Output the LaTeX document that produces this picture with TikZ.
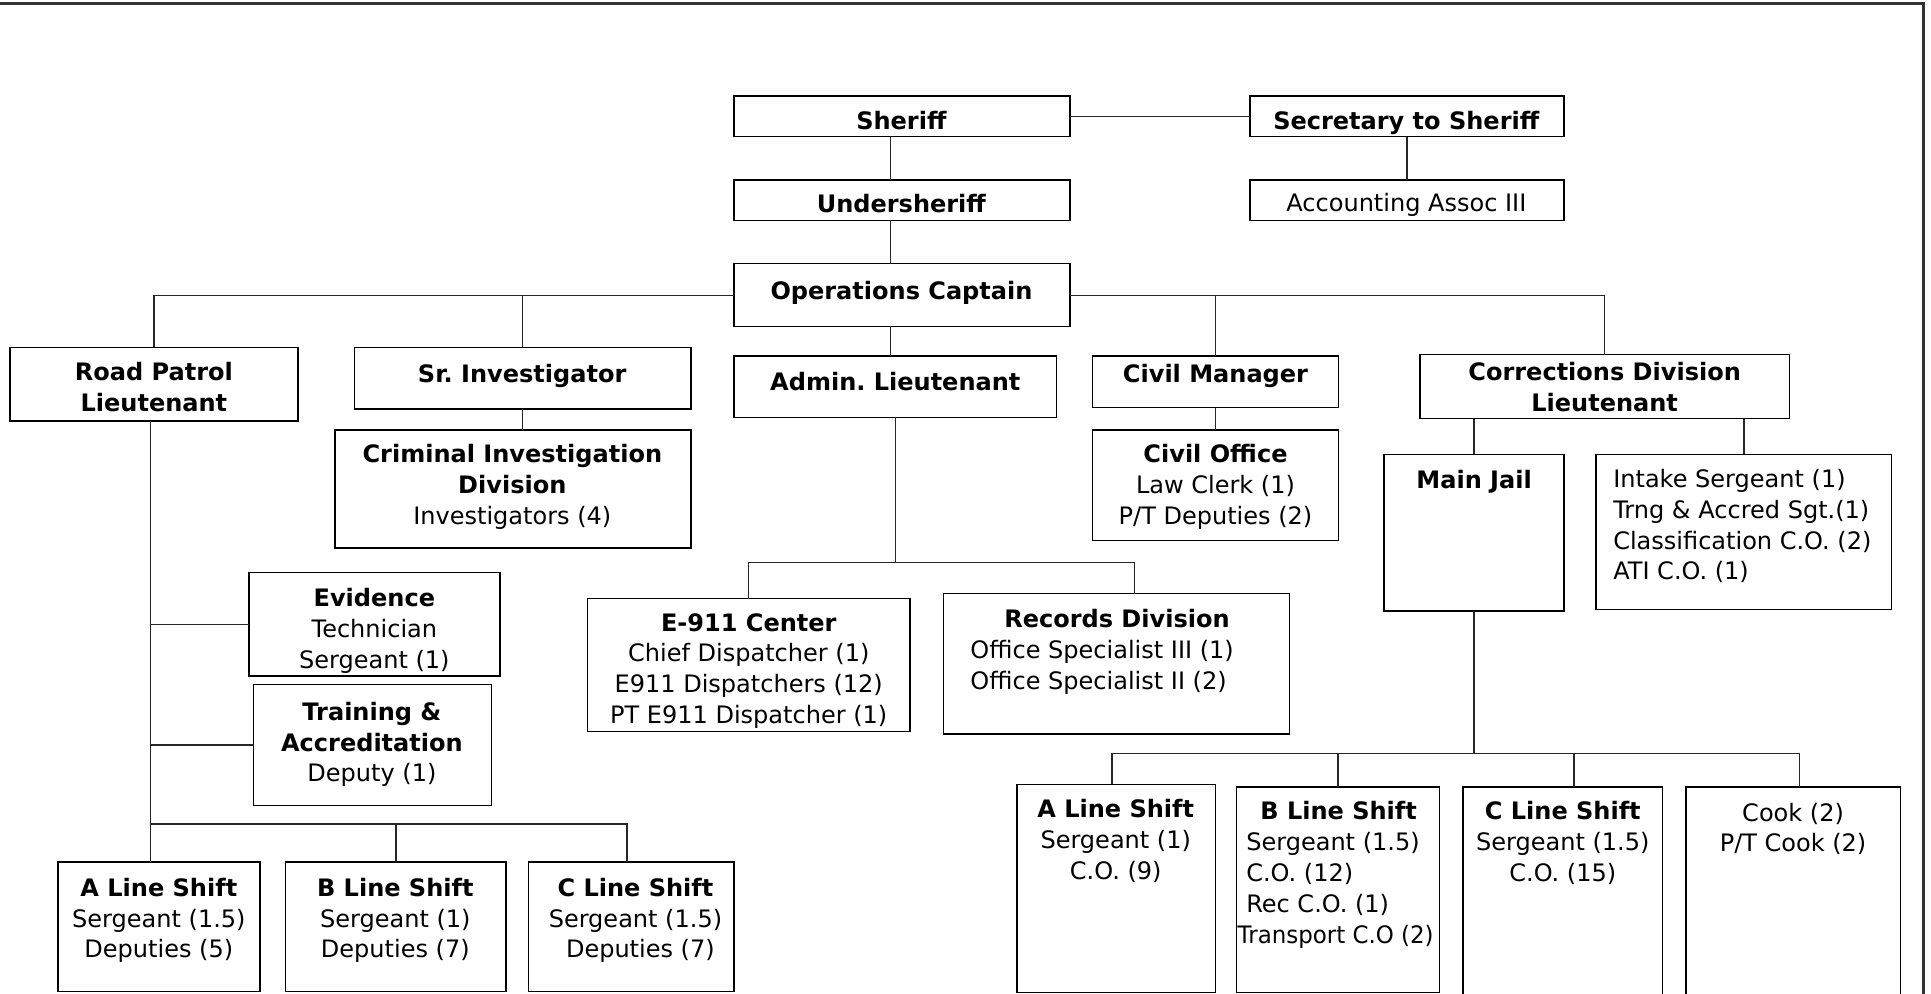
\documentclass[tikz,border=0pt]{standalone}
\usepackage{fontspec}
\setmainfont{DejaVu Sans}
\frenchspacing
\newcommand\bx[5]{\node[box,minimum width={(#4-#2)*1pt},minimum height={(#5-#3)*1pt}] (#1) at ({(#2+#4)/2},{(#3+#5)/2}) {};}
\newcommand\tx[4]{\node[txt,anchor=north] (#1) at (#2,{#3-8}) {#4};}
\newcommand\txl[4]{\node[txtl,anchor=north west] (#1) at (#2,{#3-8}) {#4};}
\begin{document}
\begin{tikzpicture}[x=1pt,y=-1pt,
 box/.style={draw=black,line width=1.2pt,inner sep=0pt,outer sep=0pt},
 txt/.style={inner sep=0pt,outer sep=0pt,align=center,font=\fontsize{19.5}{25}\selectfont},
 txtl/.style={txt,align=left},
 conn/.style={draw=black!85,line width=1.1pt},
 frame/.style={draw=black!80,line width=2pt}]
\useasboundingbox (0,0) rectangle (1568,807);
\clip (0,0) rectangle (1568,807);
% boxes
\bx{sheriff}{596}{78}{869}{111}
\bx{sec}{1015}{78}{1270}{111}
\bx{under}{596}{146}{869}{179}
\bx{acct}{1015}{146}{1270}{179}
\bx{ops}{596}{214}{869}{265}
\bx{rp}{8}{282}{242}{342}
\bx{sri}{288}{282}{561}{332}
\bx{admin}{596}{289}{858}{339}
\bx{civm}{887}{289}{1087}{331}
\bx{corr}{1153}{288}{1453}{340}
\bx{cid}{272}{349}{561}{445}
\bx{civo}{887}{349}{1087}{439}
\bx{jail}{1124}{369}{1270}{496}
\bx{intake}{1296}{369}{1536}{495}
\bx{ev}{202}{465}{406}{549}
\bx{trn}{206}{556}{399}{654}
\bx{e911}{477}{486}{739}{594}
\bx{rec}{766}{482}{1047}{596}
\bx{lsa}{47}{700}{211}{805}
\bx{lsb}{232}{700}{411}{805}
\bx{lsc}{429}{700}{596}{805}
\bx{jsa}{826}{637}{987}{806}
\bx{jsb}{1004}{639}{1169}{806}
\bx{jsc}{1188}{639}{1350}{830}
\bx{cook}{1369}{639}{1543}{830}
% texts
\tx{sheriff-t}{732}{98}{\textbf{Sheriff}}
\tx{sec-t}{1142}{98}{\textbf{Secretary to Sheriff}}
\tx{under-t}{732}{166}{\textbf{Undersheriff}}
\tx{acct-t}{1142}{165}{Accounting Assoc III}
\tx{ops-t}{732}{236}{\textbf{Operations Captain}}
\tx{rp-t}{125}{302}{\textbf{Road Patrol}\\\textbf{Lieutenant}}
\tx{sri-t}{424}{304}{\textbf{Sr. Investigator}}
\tx{admin-t}{727}{310}{\textbf{Admin. Lieutenant}}
\tx{civm-t}{987}{304}{\textbf{Civil Manager}}
\tx{corr-t}{1303}{302}{\textbf{Corrections Division}\\\textbf{Lieutenant}}
\tx{cid-t}{416}{369}{\textbf{Criminal Investigation}\\\textbf{Division}\\Investigators (4)}
\tx{civo-t}{987}{369}{\textbf{Civil Office}\\Law Clerk (1)\\P/T Deputies (2)}
\tx{jail-t}{1197}{390}{\textbf{Main Jail}}
\txl{intake-t}{1310}{389}{Intake Sergeant (1)\\Trng \& Accred Sgt.(1)\\Classification C.O. (2)\\ATI C.O. (1)}
\tx{ev-t}{304}{486}{\textbf{Evidence}\\Technician\\Sergeant (1)}
\tx{trn-t}{302}{578}{\textbf{Training \&}\\\textbf{Accreditation}\\Deputy (1)}
\tx{e911-t}{608}{506}{\textbf{E-911 Center}\\Chief Dispatcher (1)\\E911 Dispatchers (12)\\PT E911 Dispatcher (1)}
\tx{rec-t}{907}{503}{\textbf{Records Division}}
\txl{rec-b}{788}{528}{Office Specialist III (1)\\Office Specialist II (2)}
\tx{lsa-t}{129}{721}{\textbf{A Line Shift}\\Sergeant (1.5)\\Deputies (5)}
\tx{lsb-t}{321}{721}{\textbf{B Line Shift}\\Sergeant (1)\\Deputies (7)}
\tx{lsc-t}{516}{721}{\textbf{C Line Shift}\\Sergeant (1.5)\\\hspace*{8pt}Deputies (7)}
\tx{jsa-t}{906}{657}{\textbf{A Line Shift}\\Sergeant (1)\\C.O. (9)}
\tx{jsb-t}{1087}{659}{\textbf{B Line Shift}}
\txl{jsb-b}{1012}{684}{Sergeant (1.5)\\C.O. (12)\\Rec C.O. (1)\\\hspace*{-7pt}\scalebox{0.955}[1]{Transport C.O (2)}}
\tx{jsc-t}{1269}{659}{\textbf{C Line Shift}\\Sergeant (1.5)\\C.O. (15)}
\tx{cook-t}{1456}{660}{Cook (2)\\P/T Cook (2)}
% connectors
\coordinate (spine) at (723,0);
\coordinate (bus) at (0,240);
\draw[conn] (sheriff.east) -- (sec.west);
\draw[conn] (sec.south) -- (acct.north);
\draw[conn] (sheriff.south -| spine) -- (under.north -| spine);
\draw[conn] (under.south -| spine) -- (ops.north -| spine);
\draw[conn] (ops.west |- bus) -| (rp.north);
\draw[conn] (ops.east |- bus) -| (corr.north);
\draw[conn] (sri.north) -- (sri.north |- bus);
\draw[conn] (civm.north) -- (civm.north |- bus);
\draw[conn] (ops.south -| spine) -- (admin.north -| spine);
\draw[conn] (sri.south) -- (sri.south |- cid.north);
\draw[conn] (civm.south) -- (civo.north);
\draw[conn] (jail.north) -- (jail.north |- corr.south);
\draw[conn] (intake.north) -- (intake.north |- corr.south);
\coordinate (abus) at (0,457);
\coordinate (recx) at (921,0);
\draw[conn] (admin.south) -- (admin.south |- abus);
\draw[conn] (e911.north) -- (e911.north |- abus) -- (recx |- abus) -- (recx |- rec.north);
\coordinate (rpx) at (122,0);
\coordinate (sbus) at (0,669);
\coordinate (lscx) at (509,0);
\draw[conn] (rpx |- rp.south) -- (rpx |- lsa.north);
\draw[conn] (rpx |- ev.west) -- (ev.west);
\draw[conn] (rpx |- trn.west) -- (trn.west);
\draw[conn] (rpx |- sbus) -- (lscx |- sbus) -- (lscx |- lsc.north);
\draw[conn] (lsb.north) -- (lsb.north |- sbus);
\coordinate (jbus) at (0,612);
\coordinate (jax) at (903,0);
\coordinate (jcx) at (1278,0);
\coordinate (jkx) at (1461,0);
\draw[conn] (jail.south) -- (jail.south |- jbus);
\draw[conn] (jax |- jsa.north) -- (jax |- jbus) -- (jkx |- jbus) -- (jkx |- cook.north);
\draw[conn] (jsb.north) -- (jsb.north |- jbus);
\draw[conn] (jcx |- jsc.north) -- (jcx |- jbus);
% outer frame
\draw[frame] (0,3) -- (1562,3) -- (1562,807);
\end{tikzpicture}
\end{document}
